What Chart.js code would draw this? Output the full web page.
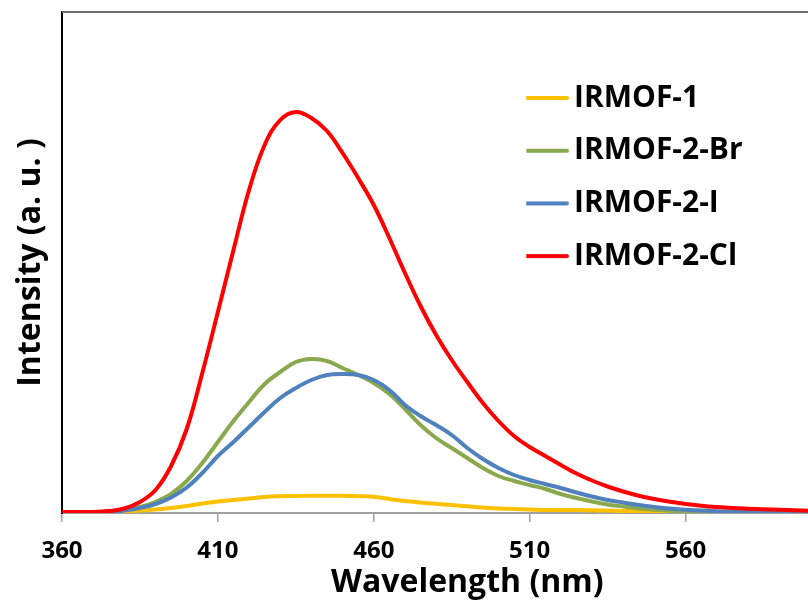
<!DOCTYPE html>
<html><head><meta charset="utf-8">
<script src="https://cdn.jsdelivr.net/npm/chart.js@4.4.0/dist/chart.umd.min.js"></script>
<style>html,body{margin:0;padding:0;overflow:hidden;background:#fff;width:808px;height:605px}</style>
</head><body>
<canvas id="c" width="877" height="605" style="display:block;width:877px;height:605px"></canvas>
<script>
// Wavelength (nm)
const wavelengths = [360,365,370,375,380,385,390,395,400,405,410,415,420,425,430,435,440,445,450,455,460,465,470,475,480,485,490,495,500,505,510,515,520,525,530,535,540,545,550,555,560,565,570,575,580,585,590,595,600];
// Intensity (a. u.)
const irmof1   = [0,0,0,0.5,1.5,2.5,3.5,5,7,9.5,11.5,13,14.5,16,16.7,17,17.3,17.3,17.3,16.8,16.3,14,12,10.5,9.2,8,6.7,5.5,4.5,4,3.5,3,3,3,2.7,2.5,2,2,1.5,1,1,1,1,1,1,1,1,1,1];
const irmof2Br = [0,0,0,1,3,6,11,19,32,50,71,92,111,129,141,151,154,152,145,138,130,119,104,88,75,65,55,45,37,32,28,24,19,15,11.5,8.5,6.5,4.5,3.2,2.2,1.6,1,1,1,1,1,1,1,1];
const irmof2I  = [0,0,0,1,2.5,5,9,15.5,25.5,40,57,71,86,101,115,125,133,138,139,138,133,123,108,97,88,78,65,54,45,38,33,29,25,20.5,16.5,13,10.5,8,6,4.5,3.3,2.5,1.8,1.3,1,1,1,1,1];
const irmof2Cl = [1,1,1,2,4.5,11,23,47,84,140,201,263,323,368,393,401,395,382,360,335,308,275,240,207,178,153,131,110,92,77,66,57,48,39.5,32.5,26.5,21.5,17.3,14,11.2,9,7.3,6,5,4.3,3.7,3.2,2.7,2.2];
const seriesNames = ['IRMOF-1','IRMOF-2-Br','IRMOF-2-I','IRMOF-2-Cl'];
const seriesValues = [irmof1, irmof2Br, irmof2I, irmof2Cl];
const seriesColors = ['#FFC000','#8AA94F','#4F81BD','#FF0000'];
const xTickValues = [360,410,460,510,560,610];

Chart.defaults.font.family = "'Open Sans', sans-serif";
Chart.defaults.color = '#000';

function legendLine(color){
  const c = document.createElement('canvas');
  c.width = 70; c.height = 8;
  const g = c.getContext('2d');
  g.strokeStyle = color; g.lineWidth = 4; g.lineCap = 'round';
  g.beginPath(); g.moveTo(2,4); g.lineTo(48,4); g.stroke();
  return c;
}

const legendPlacer = {
  id: 'legendPlacer',
  afterLayout(chart){
    const l = chart.legend; if (!l) return;
    const pad = l.options.labels.padding;
    l.left = 549 - pad; l.right = l.left + 300;
    l.top = 83 - pad; l.bottom = 513;
  }
};
const frame = {
  id: 'frame',
  afterDraw(chart){
    const {ctx, chartArea:a} = chart;
    ctx.save(); ctx.strokeStyle = '#6e6e6e'; ctx.lineWidth = 2;
    ctx.beginPath(); ctx.moveTo(a.left, a.top); ctx.lineTo(a.right, a.top); ctx.lineTo(a.right, a.bottom); ctx.stroke();
    ctx.restore();
  }
};

const datasets = seriesNames.map((name, i) => ({
  label: name,
  data: wavelengths.map((w, k) => ({x: w, y: seriesValues[i][k]})),
  borderColor: seriesColors[i],
  backgroundColor: seriesColors[i],
  borderWidth: 4,
  pointRadius: 0,
  tension: 0.4,
  fill: false,
  order: seriesNames.length - i,
  pointStyle: legendLine(seriesColors[i])
}));

new Chart(document.getElementById('c'), {
  type: 'line',
  data: { datasets },
  options: {
    responsive: false,
    animation: false,
    layout: { padding: { top: 12, left: 0, right: 0, bottom: 0 } },
    plugins: {
      tooltip: { enabled: false },
      legend: {
        position: 'chartArea',
        align: 'start',
        labels: {
          usePointStyle: true,
          pointStyleWidth: 10,
          boxHeight: 8,
          padding: 22.7,
          color: '#000',
          font: { size: 30, weight: 'bold' },
          sort: (a, b) => a.datasetIndex - b.datasetIndex
        }
      }
    },
    scales: {
      x: {
        type: 'linear',
        min: 360, max: 620,
        afterFit(s){ s.height = 92; },
        afterBuildTicks(s){ s.ticks = xTickValues.map(v => ({value: v})); },
        grid: { drawOnChartArea: false, drawTicks: true, tickLength: 9, color: '#a0a0a0', lineWidth: 1.5 },
        border: { display: true, color: '#a0a0a0', width: 2 },
        ticks: { padding: 15, color: '#000', font: { size: 24, weight: 'bold' }, maxRotation: 0 },
        title: { display: true, text: 'Wavelength (nm)', color: '#000', font: { size: 32, weight: 'bold' }, padding: { top: 0, bottom: 3 } }
      },
      y: {
        min: 0, max: 501,
        afterFit(s){ s.width = 62; },
        grid: { display: false, drawTicks: false },
        border: { display: true, color: '#000', width: 2 },
        ticks: { display: false },
        title: { display: true, text: 'Intensity (a. u. )', color: '#000', font: { size: 32, weight: 'bold' }, padding: { top: 12, bottom: 0 } }
      }
    }
  },
  plugins: [legendPlacer, frame]
});
</script>
</body></html>
